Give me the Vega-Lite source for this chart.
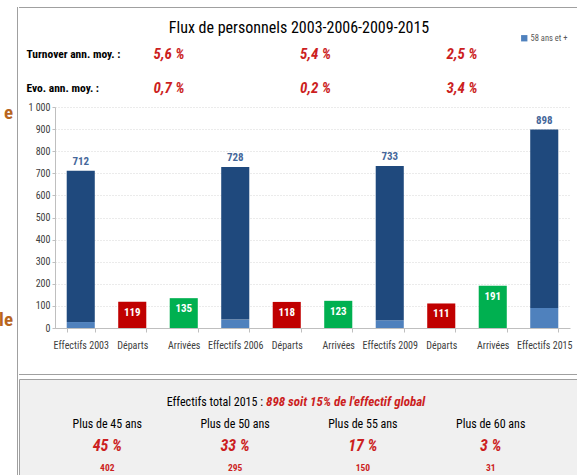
{
  "$schema": "https://vega.github.io/schema/vega-lite/v6.json",
  "padding": {"left": 0, "top": 7, "right": 0, "bottom": 0},
  "background": "white",
  "config": {
    "font": "Liberation Sans Narrow, Noto Sans Condensed, Roboto Condensed, Open Sans Condensed, Arial Narrow, DejaVu Sans Condensed, sans-serif",
    "view": {"stroke": null},
    "concat": {"spacing": 0}
  },
  "spacing": 0,
  "hconcat": [
    {
      "width": 17,
      "height": 469,
      "data": {"values": [{"fragment": "e"}, {"fragment": "le"}]},
      "mark": {"type": "text", "align": "right", "dx": 4.5, "fontSize": 19, "fontWeight": "bold", "color": "#B8651E", "clip": true},
      "encoding": {
        "y": {"field": "fragment", "type": "nominal", "sort": null, "scale": {"type": "point", "padding": 0.633, "align": 0.405}, "axis": null},
        "text": {"field": "fragment"}
      }
    },
    {"width": 1, "height": 469, "data": {"values": []}, "mark": "point", "view": {"fill": "#A0A0A0", "stroke": null}},
    {
      "spacing": 0,
      "vconcat": [
        {"width": 560, "height": 1, "data": {"values": []}, "mark": "point", "view": {"fill": "#A0A0A0", "stroke": null}},
        {
          "width": 560,
          "height": 94,
          "title": {"text": "Flux de personnels 2003-2006-2009-2015", "offset": -28, "fontSize": 16, "fontWeight": "normal", "color": "#000000", "anchor": "middle"},
          "data": {"values": [
            {"indicateur": "Turnover ann. moy. :", "periode": "2003-2006", "valeur": "5,6 %"},
            {"indicateur": "Turnover ann. moy. :", "periode": "2006-2009", "valeur": "5,4 %"},
            {"indicateur": "Turnover ann. moy. :", "periode": "2009-2015", "valeur": "2,5 %"},
            {"indicateur": "Evo. ann. moy. :", "periode": "2003-2006", "valeur": "0,7 %"},
            {"indicateur": "Evo. ann. moy. :", "periode": "2006-2009", "valeur": "0,2 %"},
            {"indicateur": "Evo. ann. moy. :", "periode": "2009-2015", "valeur": "3,4 %"}
          ]},
          "mark": {"type": "text", "fontSize": 15, "fontWeight": "bold", "fontStyle": "italic", "color": "#CC1F1F"},
          "encoding": {
            "x": {"field": "periode", "type": "nominal", "sort": null, "scale": {"type": "point", "padding": 0.911, "align": 0.562}, "axis": null},
            "y": {"field": "indicateur", "type": "nominal", "sort": null, "scale": {"type": "point", "padding": 0.882, "align": 0.767},
              "axis": {"title": null, "orient": "left", "domain": false, "ticks": false, "tickSize": 0, "labelAlign": "left", "labelPadding": -7, "labelFontSize": 11.5, "labelFontWeight": "bold", "labelColor": "#000000", "labelLimit": 200}},
            "text": {"field": "valeur"}
          }
        },
        {
          "spacing": 0,
          "bounds": "flush",
          "hconcat": [
            {"width": 36, "height": 267, "data": {"values": []}, "mark": "point"},
            {
              "width": 515,
              "height": 221,
              "data": {"values": [
                {"categorie": "Effectifs 2003", "segment": "58 ans et +", "valeur": 27},
                {"categorie": "Effectifs 2003", "segment": "Moins de 58 ans", "valeur": 685},
                {"categorie": "Départs 2003-2006", "segment": "Départs", "valeur": 119},
                {"categorie": "Arrivées 2003-2006", "segment": "Arrivées", "valeur": 135},
                {"categorie": "Effectifs 2006", "segment": "58 ans et +", "valeur": 38},
                {"categorie": "Effectifs 2006", "segment": "Moins de 58 ans", "valeur": 690},
                {"categorie": "Départs 2006-2009", "segment": "Départs", "valeur": 118},
                {"categorie": "Arrivées 2006-2009", "segment": "Arrivées", "valeur": 123},
                {"categorie": "Effectifs 2009", "segment": "58 ans et +", "valeur": 35},
                {"categorie": "Effectifs 2009", "segment": "Moins de 58 ans", "valeur": 698},
                {"categorie": "Départs 2009-2015", "segment": "Départs", "valeur": 111},
                {"categorie": "Arrivées 2009-2015", "segment": "Arrivées", "valeur": 191},
                {"categorie": "Effectifs 2015", "segment": "58 ans et +", "valeur": 91},
                {"categorie": "Effectifs 2015", "segment": "Moins de 58 ans", "valeur": 807}
              ]},
              "encoding": {
                "x": {"field": "categorie", "type": "nominal", "title": null,
                  "scale": {"domain": ["Effectifs 2003", "Départs 2003-2006", "Arrivées 2003-2006", "Effectifs 2006", "Départs 2006-2009", "Arrivées 2006-2009", "Effectifs 2009", "Départs 2009-2015", "Arrivées 2009-2015", "Effectifs 2015"], "paddingInner": 0.455, "paddingOuter": 0.2275},
                  "axis": {"labelAngle": 0, "tickBand": "extent", "domainColor": "#BFBFBF", "tickColor": "#BFBFBF", "tickSize": 4, "labelPadding": 8, "labelFontSize": 10, "labelColor": "#404040",
                    "labelExpr": "indexof(datum.label, 'Effectifs') == 0 ? datum.label : split(datum.label, ' ')[0]"}},
                "y": {"field": "valeur", "type": "quantitative", "title": null, "scale": {"domain": [0, 1000]},
                  "axis": {"tickCount": 10, "labelExpr": "replace(format(datum.value, ','), ',', ' ')", "labelFontSize": 10, "labelColor": "#404040", "domainColor": "#BFBFBF", "tickColor": "#BFBFBF", "tickSize": 3, "labelPadding": 2, "gridColor": "#D6D6D6", "gridDash": [1, 2]}}
              },
              "layer": [
                {
                  "mark": {"type": "bar"},
                  "encoding": {
                    "color": {"field": "segment", "type": "nominal",
                      "scale": {"domain": ["58 ans et +", "Moins de 58 ans", "Départs", "Arrivées"], "range": ["#4F81BD", "#1F497D", "#C00000", "#00B050"]},
                      "legend": {"title": null, "values": ["58 ans et +"], "orient": "none", "legendX": 520, "legendY": 27, "symbolType": "square", "symbolSize": 40, "labelFontSize": 8.5, "labelColor": "#595959", "symbolStrokeWidth": 0, "labelOffset": 2}},
                    "order": {"field": "segment", "sort": "ascending"}
                  }
                },
                {
                  "transform": [
                    {"filter": "indexof(datum.categorie, 'Effectifs') == 0"},
                    {"aggregate": [{"op": "sum", "field": "valeur", "as": "valeur"}], "groupby": ["categorie"]}
                  ],
                  "mark": {"type": "text", "baseline": "bottom", "dy": -4, "fontSize": 11, "fontWeight": "bold", "color": "#45679A"},
                  "encoding": {"text": {"field": "valeur", "type": "quantitative"}}
                },
                {
                  "transform": [{"filter": "indexof(datum.categorie, 'Effectifs') != 0"}],
                  "mark": {"type": "text", "baseline": "middle", "dy": 11, "fontSize": 11, "fontWeight": "bold", "color": "#FFFFFF"},
                  "encoding": {"text": {"field": "valeur", "type": "quantitative"}}
                }
              ]
            }
          ]
        },
        {"width": 560, "height": 1, "data": {"values": []}, "mark": "point", "view": {"fill": "#A0A0A0", "stroke": null}},
        {"width": 560, "height": 3, "data": {"values": []}, "mark": "point"},
        {
          "width": 560,
          "height": 97,
          "view": {"fill": "#F0F0F0", "stroke": "#A0A0A0", "strokeWidth": 1},
          "layer": [
            {
              "data": {"values": [{"intitule": "Effectifs total 2015 :", "resume": "898 soit 15% de l'effectif global"}]},
              "mark": {"type": "text", "align": "right", "dx": -36, "fontSize": 12, "color": "#000000"},
              "encoding": {
                "y": {"datum": "titre", "type": "nominal", "scale": {"type": "point", "domain": ["titre", "tranche", "pct", "effectif"], "padding": 0.7045, "align": 0.742}, "axis": null},
                "text": {"field": "intitule"}
              }
            },
            {
              "data": {"values": [{"intitule": "Effectifs total 2015 :", "resume": "898 soit 15% de l'effectif global"}]},
              "mark": {"type": "text", "align": "left", "dx": -33, "fontSize": 13, "fontWeight": "bold", "fontStyle": "italic", "color": "#CC1F1F"},
              "encoding": {
                "y": {"datum": "titre", "type": "nominal"},
                "text": {"field": "resume"}
              }
            },
            {
              "data": {"name": "tranches", "values": [
                {"tranche": "Plus de 45 ans", "pct": "45 %", "effectif": 402},
                {"tranche": "Plus de 50 ans", "pct": "33 %", "effectif": 295},
                {"tranche": "Plus de 55 ans", "pct": "17 %", "effectif": 150},
                {"tranche": "Plus de 60 ans", "pct": "3 %", "effectif": 31}
              ]},
              "layer": [
                {
                  "mark": {"type": "text", "fontSize": 12, "color": "#000000"},
                  "encoding": {
                    "x": {"field": "tranche", "type": "nominal", "sort": null, "scale": {"type": "point", "padding": 0.691}, "axis": null},
                    "y": {"datum": "tranche", "type": "nominal"},
                    "text": {"field": "tranche"}
                  }
                },
                {
                  "mark": {"type": "text", "fontSize": 16, "fontWeight": "bold", "fontStyle": "italic", "color": "#CC1F1F"},
                  "encoding": {
                    "x": {"field": "tranche", "type": "nominal", "sort": null},
                    "y": {"datum": "pct", "type": "nominal"},
                    "text": {"field": "pct"}
                  }
                },
                {
                  "mark": {"type": "text", "fontSize": 9.5, "fontWeight": "bold", "color": "#CC1F1F"},
                  "encoding": {
                    "x": {"field": "tranche", "type": "nominal", "sort": null},
                    "y": {"datum": "effectif", "type": "nominal"},
                    "text": {"field": "effectif", "type": "quantitative"}
                  }
                }
              ]
            }
          ]
        }
      ]
    }
  ]
}
